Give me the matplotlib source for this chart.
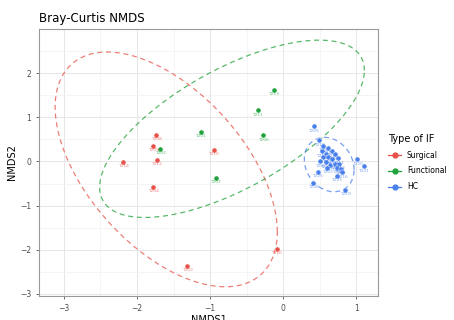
import numpy as np
import matplotlib
matplotlib.use("Agg")
import matplotlib.pyplot as plt

# NMDS coordinates
surg_x = [-2.19, -1.73, -1.74, -1.78, -1.78, -0.95, -1.31, -0.09]
surg_y = [-0.01, 0.04, 0.61, 0.36, -0.57, 0.27, -2.36, -1.98]
surg_lab = ["T214", "T212", "T208", "T209", "T204", "T210", "T203", "T216"]

func_x = [-0.13, -0.35, -1.13, -0.27, -1.68, -0.92]
func_y = [1.63, 1.16, 0.67, 0.59, 0.29, -0.37]
func_lab = ["T213", "T211", "T201", "T206", "T202", "T207"]

hc_x = [0.42, 0.49, 0.55, 0.62, 0.53, 0.59, 0.67, 0.71, 0.55, 0.62, 0.67, 0.75,
        0.58, 0.64, 0.71, 0.77, 0.74, 0.79, 0.81, 1.01, 1.10, 0.47, 0.41, 0.73,
        0.85, 0.60, 0.51]
hc_y = [0.80, 0.48, 0.36, 0.30, 0.23, 0.18, 0.23, 0.16, 0.09, 0.09, 0.05, 0.07,
        -0.02, -0.07, -0.05, -0.05, -0.14, -0.16, -0.25, 0.05, -0.11, -0.23, -0.48,
        -0.32, -0.64, -0.14, 0.00]
hc_lab = ["T205", "T218", "T204", "T210", "T217", "T222", "T212", "T209", "T214",
          "T227", "T215", "T211", "T224", "T207", "T202", "T213", "T226", "T201",
          "T216", "T220", "T221", "T225", "T228", "T223", "T219", "T203", "T206"]

# ellipse centre and shape matrix per group
surg_centre = [-1.60, -0.18]
surg_shape = [[2.31, -2.15], [-2.15, 7.08]]
func_centre = [-0.70, 0.74]
func_shape = [[3.28, 2.40], [2.40, 4.04]]
hc_centre = [0.63, -0.07]
hc_shape = [[0.116, -0.04], [-0.04, 0.38]]

groups = [
    ("Surgical", surg_x, surg_y, surg_lab, surg_centre, surg_shape, "#E8524A"),
    ("Functional", func_x, func_y, func_lab, func_centre, func_shape, "#1FA23A"),
    ("HC", hc_x, hc_y, hc_lab, hc_centre, hc_shape, "#4A80EC"),
]

fig = plt.figure(figsize=(4.54, 3.2), dpi=100)
ax = fig.add_axes([0.086, 0.075, 0.747, 0.834])

t = np.linspace(0, 2 * np.pi, 300)
circle = np.vstack([np.cos(t), np.sin(t)])
for name, xs, ys, labs, centre, shape, col in groups:
    ax.scatter(xs, ys, s=14, color=col, edgecolor="white", linewidth=0.4, zorder=3)
    for x, y, lab in zip(xs, ys, labs):
        ax.text(x, y - 0.1, lab, fontsize=3.2, color=col, alpha=0.7,
                ha="center", va="center", zorder=4)
    L = np.linalg.cholesky(np.array(shape))
    pts = L @ circle
    ax.plot(centre[0] + pts[0], centre[1] + pts[1], ls=(0, (4, 3)), lw=0.9,
            color=col, alpha=0.75, zorder=2)
    ax.plot([], [], color=col, marker="o", ms=3.5, lw=0.9, label=name)

ax.set_xticks([-3, -2, -1, 0, 1])
ax.set_yticks([-3, -2, -1, 0, 1, 2])
ax.set_xticks(np.arange(-3.5, 1.6, 0.5), minor=True)
ax.set_yticks(np.arange(-3.5, 3.1, 0.5), minor=True)
ax.set_xlim(-3.34, 1.30)
ax.set_ylim(-3.05, 3.0)
ax.grid(True, which="major", color="#e6e6e6", lw=0.7)
ax.grid(True, which="minor", color="#f2f2f2", lw=0.5)
ax.set_axisbelow(True)
ax.tick_params(which="major", labelsize=5.5, labelcolor="#4d4d4d", length=2,
               color="#555555", width=0.6)
ax.tick_params(which="minor", length=0)
for sp in ax.spines.values():
    sp.set_color("#999999")
    sp.set_linewidth(0.8)

ax.set_xlabel("NMDS1", fontsize=7, labelpad=2)
ax.set_ylabel("NMDS2", fontsize=7, labelpad=2)
ax.set_title("Bray-Curtis NMDS", fontsize=8.5, loc="left", pad=5)

ax.legend(title="Type of IF", loc="center left", bbox_to_anchor=(1.01, 0.5),
          frameon=False, fontsize=5.5, title_fontsize=7, handlelength=1.6,
          labelspacing=0.9, alignment="left")

fig.savefig("out.png", dpi=100)
